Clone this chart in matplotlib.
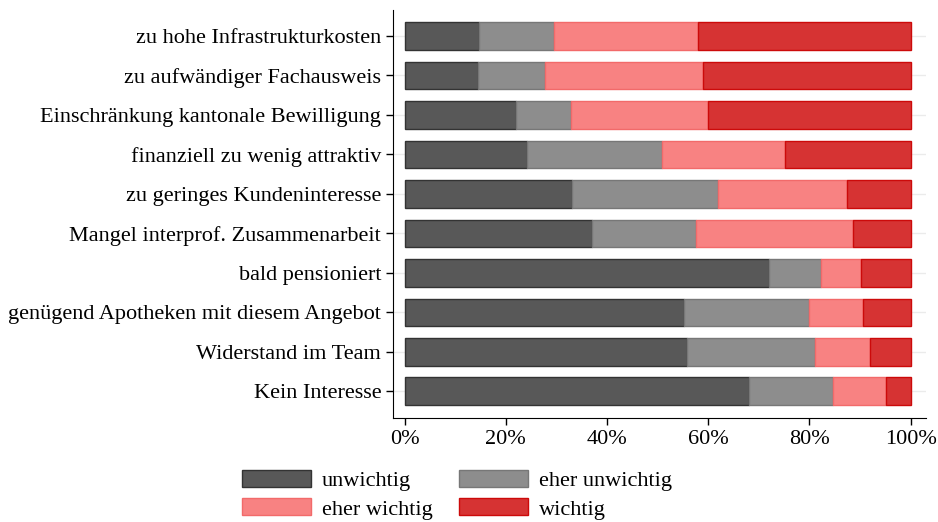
import numpy as np
import matplotlib.pyplot as plt
from matplotlib.ticker import PercentFormatter

categories = [
    'zu hohe Infrastrukturkosten',
    'zu aufwändiger Fachausweis',
    'Einschränkung kantonale Bewilligung',
    'finanziell zu wenig attraktiv',
    'zu geringes Kundeninteresse',
    'Mangel interprof. Zusammenarbeit',
    'bald pensioniert',
    'genügend Apotheken mit diesem Angebot',
    'Widerstand im Team',
    'Kein Interesse',
]
series_names = ['unwichtig', 'eher unwichtig', 'eher wichtig', 'wichtig']
unwichtig = [14.6, 14.4, 22.0, 24.2, 33.0, 37.0, 72.0, 55.2, 55.9, 68.0]
eher_unwichtig = [14.9, 13.3, 10.9, 26.6, 28.9, 20.6, 10.2, 24.7, 25.2, 16.6]
eher_wichtig = [28.4, 31.3, 27.1, 24.4, 25.5, 31.1, 8.0, 10.6, 10.8, 10.5]
wichtig = [42.1, 41.0, 40.0, 24.8, 12.6, 11.3, 9.8, 9.5, 8.1, 4.9]

fills = ['#585858', '#8d8d8d', '#f88282', '#d63333']
edges = ['#333333', '#777777', '#f26a6a', '#cc0a0a']

plt.rcParams['font.family'] = ['Liberation Serif', 'DejaVu Serif']
plt.rcParams['font.size'] = 16


def main():
    fig = plt.figure(figsize=(9.38, 5.22), dpi=100)
    ax = fig.add_axes([0.419, 0.199, 0.568, 0.782])

    y = np.arange(len(categories))
    left = np.zeros(len(categories))
    bars = []
    for vals, name, fc, ec in zip([unwichtig, eher_unwichtig, eher_wichtig, wichtig],
                                  series_names, fills, edges):
        vals = np.array(vals)
        b = ax.barh(y, vals, left=left, height=0.7, color=fc, edgecolor=ec,
                    linewidth=1, label=name, zorder=2)
        bars.append(b)
        left += vals

    ax.set_yticks(y)
    ax.set_yticklabels(categories)
    ax.set_ylim(len(categories) - 1 + 0.68, -0.66)
    ax.set_xlim(-2.3, 103)
    ax.set_xticks([0, 20, 40, 60, 80, 100])
    ax.xaxis.set_major_formatter(PercentFormatter(decimals=0))
    ax.grid(axis='y', color='#ebebeb', linewidth=1, zorder=0)
    ax.spines['top'].set_visible(False)
    ax.spines['right'].set_visible(False)
    ax.tick_params(axis='both', direction='out', length=5, width=1)

    # legend filled row-wise like the original
    order = [0, 2, 1, 3]
    fig.legend([bars[i] for i in order], [series_names[i] for i in order],
               loc='upper left', bbox_to_anchor=(242 / 938, 1 - 470 / 522),
               ncol=2, frameon=False, borderpad=0, borderaxespad=0,
               handlelength=3.1, handleheight=0.8, handletextpad=0.5,
               columnspacing=1.2, labelspacing=0.32)

    fig.savefig('out.png', dpi=100)


if __name__ == '__main__':
    main()
